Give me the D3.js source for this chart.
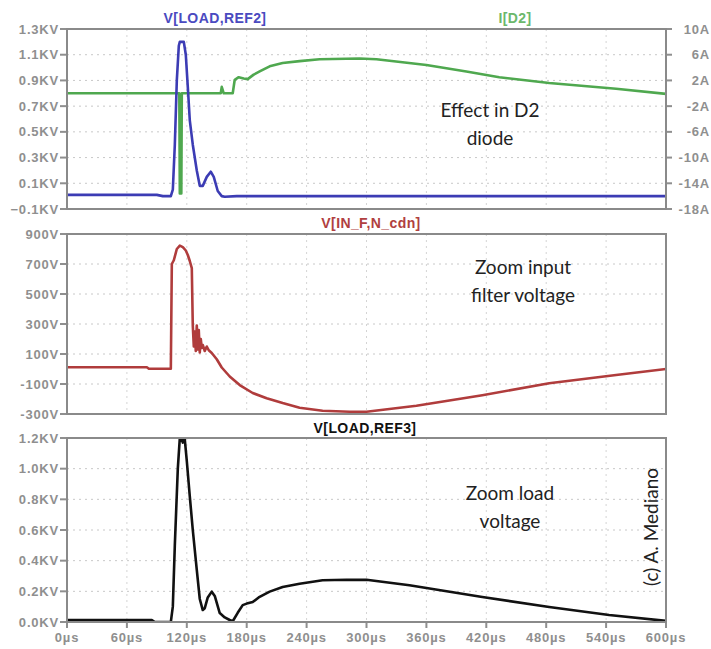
<!DOCTYPE html>
<html>
<head>
<meta charset="utf-8">
<script src="https://d3js.org/d3.v7.min.js"></script>
<style>
  body { margin: 0; background: #fff; }
  svg { display: block; }
  .tick-label { font-family: "Liberation Sans", Arial, sans-serif; font-size: 13px; font-weight: bold; fill: #8f8f8f; letter-spacing: 0.8px; }
  .note { font-family: Lato, "Open Sans", sans-serif; font-size: 19px; fill: #222; }
</style>
</head>
<body>
<div id="chart"></div>
<script>
// time axis (µs)
const timeTicks = [0, 60, 120, 180, 240, 300, 360, 420, 480, 540, 600];

// V[LOAD,REF2] in KV, [t(µs), value]
const vLoadRef2 = [
  [0, 0.01], [90, 0.01], [96, 0.0], [104, 0.0], [106, 0.05], [108, 0.4], [110, 0.9],
  [112, 1.17], [113, 1.2], [117, 1.2], [119, 1.1], [121, 0.85], [123, 0.59], [126, 0.4],
  [130, 0.2], [133, 0.08], [136, 0.08], [140, 0.15], [144, 0.19], [147, 0.15], [151, 0.04],
  [155, 0.0], [158, -0.005], [170, 0.0], [600, 0.0]
];

// I[D2] in A
const iD2 = [
  [0, 0], [112.5, 0], [113, -15.6], [114.5, -15.6], [115, 0], [154, 0], [155, 1], [157, 0],
  [166, 0], [168, 2.1], [172, 2.5], [177, 2.3], [181, 2.2], [187, 2.9], [193, 3.4],
  [203, 4.2], [216, 4.7], [233, 5.0], [253, 5.3], [293, 5.4], [310, 5.3], [360, 4.4],
  [400, 3.4], [433, 2.5], [483, 1.6], [550, 0.7], [600, -0.1]
];

// V[IN_F,N_cdn] in V
const vInF = [
  [0, 12], [80, 12], [82, 2], [104, 2], [105, 700], [107, 725], [110, 800], [113, 822],
  [116, 812], [119, 790], [121, 760], [123, 720], [125, 673], [126, 290], [127, 150],
  [128, 250], [129, 120], [130, 290], [131, 130], [132, 260], [133, 110], [134, 200],
  [135, 140], [136, 160], [138, 120], [140, 150], [142, 125], [145, 107], [150, 65],
  [155, 10], [163, -50], [173, -107], [186, -160], [200, -195], [216, -227], [233, -258],
  [256, -278], [283, -285], [300, -285], [350, -245], [416, -175], [483, -95],
  [550, -40], [600, 0]
];

// V[LOAD,REF3] in KV
const vLoadRef3 = [
  [0, 0.012], [85, 0.012], [88, 0.0], [104, 0.0], [106, 0.1], [108, 0.5], [111, 1.0],
  [113, 1.2], [115, 1.19], [116, 1.17], [117, 1.2], [118, 1.19], [120, 1.05], [123, 0.82],
  [126, 0.6], [130, 0.34], [133, 0.15], [136, 0.078], [138, 0.09], [141, 0.16], [145, 0.198],
  [148, 0.17], [153, 0.058], [158, 0.03], [163, 0.013], [166, 0.005], [171, 0.06],
  [176, 0.11], [180, 0.12], [186, 0.13], [192, 0.16], [203, 0.198], [216, 0.228],
  [233, 0.25], [256, 0.272], [280, 0.276], [300, 0.275], [343, 0.24], [416, 0.163],
  [483, 0.098], [543, 0.046], [600, 0.007]
];

// axis ticks
const topLeftTicks = [-0.1, 0.1, 0.3, 0.5, 0.7, 0.9, 1.1, 1.3];
const topRightTicks = [-18, -14, -10, -6, -2, 2, 6, 10];
const midTicks = [-300, -100, 100, 300, 500, 700, 900];
const botTicks = [0, 0.2, 0.4, 0.6, 0.8, 1.0, 1.2];

const W = 711, H = 649;
const left = 67, right = 666;

const svg = d3.select("#chart").append("svg")
  .attr("width", W).attr("height", H);

const x = d3.scaleLinear().domain([0, 600]).range([left, right]);

const panels = [
  { id: "top", top: 29, bottom: 209, domain: [-0.1, 1.3], ticks: topLeftTicks, fmt: d => d3.format(".1f")(d) + "KV" },
  { id: "mid", top: 234, bottom: 414, domain: [-300, 900], ticks: midTicks, fmt: d => d + "V" },
  { id: "bot", top: 438, bottom: 622, domain: [0, 1.2], ticks: botTicks, fmt: d => d3.format(".1f")(d) + "KV" }
];

panels.forEach(p => {
  p.y = d3.scaleLinear().domain(p.domain).range([p.bottom, p.top]);

  svg.append("clipPath").attr("id", "clip-" + p.id)
    .append("rect").attr("x", left).attr("y", p.top)
    .attr("width", right - left).attr("height", p.bottom - p.top);

  const g = svg.append("g");

  // grid
  g.selectAll(".hgrid").data(p.ticks.slice(1, -1)).enter().append("line")
    .attr("x1", left).attr("x2", right)
    .attr("y1", d => p.y(d)).attr("y2", d => p.y(d))
    .attr("stroke", "#c8c8c8").attr("stroke-width", 1).attr("stroke-dasharray", "2,4");
  g.selectAll(".vgrid").data(timeTicks.slice(1, -1)).enter().append("line")
    .attr("x1", d => x(d)).attr("x2", d => x(d))
    .attr("y1", p.top).attr("y2", p.bottom)
    .attr("stroke", "#d4d4d4").attr("stroke-width", 1).attr("stroke-dasharray", "2,4");

  // left ticks + labels
  g.selectAll(".lt").data(p.ticks).enter().append("line")
    .attr("x1", left - 7).attr("x2", left)
    .attr("y1", d => p.y(d)).attr("y2", d => p.y(d))
    .attr("stroke", "#8f8f8f").attr("stroke-width", 2);
  g.selectAll(".ll").data(p.ticks).enter().append("text")
    .attr("class", "tick-label")
    .attr("x", left - 8).attr("y", d => p.y(d) + 4.5)
    .attr("text-anchor", "end")
    .text(p.fmt);
});

const [pTop, pMid, pBot] = panels;

// right axis of top panel (current)
const yI = d3.scaleLinear().domain([-18, 10]).range([pTop.bottom, pTop.top]);
svg.selectAll(".rt").data(topRightTicks).enter().append("line")
  .attr("x1", right).attr("x2", right + 6)
  .attr("y1", d => yI(d)).attr("y2", d => yI(d))
  .attr("stroke", "#8f8f8f").attr("stroke-width", 2);
svg.selectAll(".rl").data(topRightTicks).enter().append("text")
  .attr("class", "tick-label")
  .attr("x", 710).attr("y", d => yI(d) + 4.5)
  .attr("text-anchor", "end")
  .text(d => d + "A");

// bottom time axis
svg.selectAll(".xt").data(timeTicks).enter().append("line")
  .attr("x1", d => x(d)).attr("x2", d => x(d))
  .attr("y1", pBot.bottom).attr("y2", pBot.bottom + 6)
  .attr("stroke", "#8f8f8f").attr("stroke-width", 2);
svg.selectAll(".xl").data(timeTicks).enter().append("text")
  .attr("class", "tick-label")
  .attr("x", d => x(d)).attr("y", 642)
  .attr("text-anchor", "middle")
  .text(d => d + "µs");

// traces
function trace(panelId, data, yScale, color) {
  const line = d3.line().x(d => x(d[0])).y(d => yScale(d[1]));
  svg.append("path")
    .datum(data)
    .attr("clip-path", `url(#clip-${panelId})`)
    .attr("fill", "none")
    .attr("stroke", color)
    .attr("stroke-width", 2.6)
    .attr("stroke-linejoin", "round")
    .attr("d", line);
}
trace("top", iD2, yI, "#4fa84f");
trace("top", vLoadRef2, pTop.y, "#3c3cb4");
trace("mid", vInF, pMid.y, "#b03c3c");
trace("bot", vLoadRef3, pBot.y, "#111");

// frames
panels.forEach(p => {
  svg.append("rect")
    .attr("x", left).attr("y", p.top)
    .attr("width", right - left).attr("height", p.bottom - p.top)
    .attr("fill", "none").attr("stroke", "#8a8a8a").attr("stroke-width", 2);
});

// trace titles
const titles = [
  { text: "V[LOAD,REF2]", x: 215, y: 23, color: "#4a4ac0" },
  { text: "I[D2]", x: 515, y: 23, color: "#6cb86c" },
  { text: "V[IN_F,N_cdn]", x: 371, y: 228, color: "#b04040" },
  { text: "V[LOAD,REF3]", x: 365, y: 433, color: "#111" }
];
svg.selectAll(".title").data(titles).enter().append("text")
  .attr("x", d => d.x).attr("y", d => d.y)
  .attr("text-anchor", "middle")
  .style("font-family", "'Liberation Sans', Arial, sans-serif")
  .style("font-size", "14px").style("font-weight", "bold")
  .style("letter-spacing", "0.4px")
  .attr("fill", d => d.color)
  .text(d => d.text);

// annotations
const notes = [
  { lines: ["Effect in D2", "diode"], x: 490, y: 117 },
  { lines: ["Zoom input", "filter voltage"], x: 523, y: 274 },
  { lines: ["Zoom load", "voltage"], x: 510, y: 500 }
];
notes.forEach(n => {
  n.lines.forEach((t, i) => {
    svg.append("text").attr("class", "note")
      .attr("x", n.x).attr("y", n.y + i * 28)
      .attr("text-anchor", "middle").text(t);
  });
});

svg.append("text").attr("class", "note")
  .attr("transform", "translate(658,527) rotate(-90)")
  .attr("text-anchor", "middle")
  .text("(c) A. Mediano");
</script>
</body>
</html>
